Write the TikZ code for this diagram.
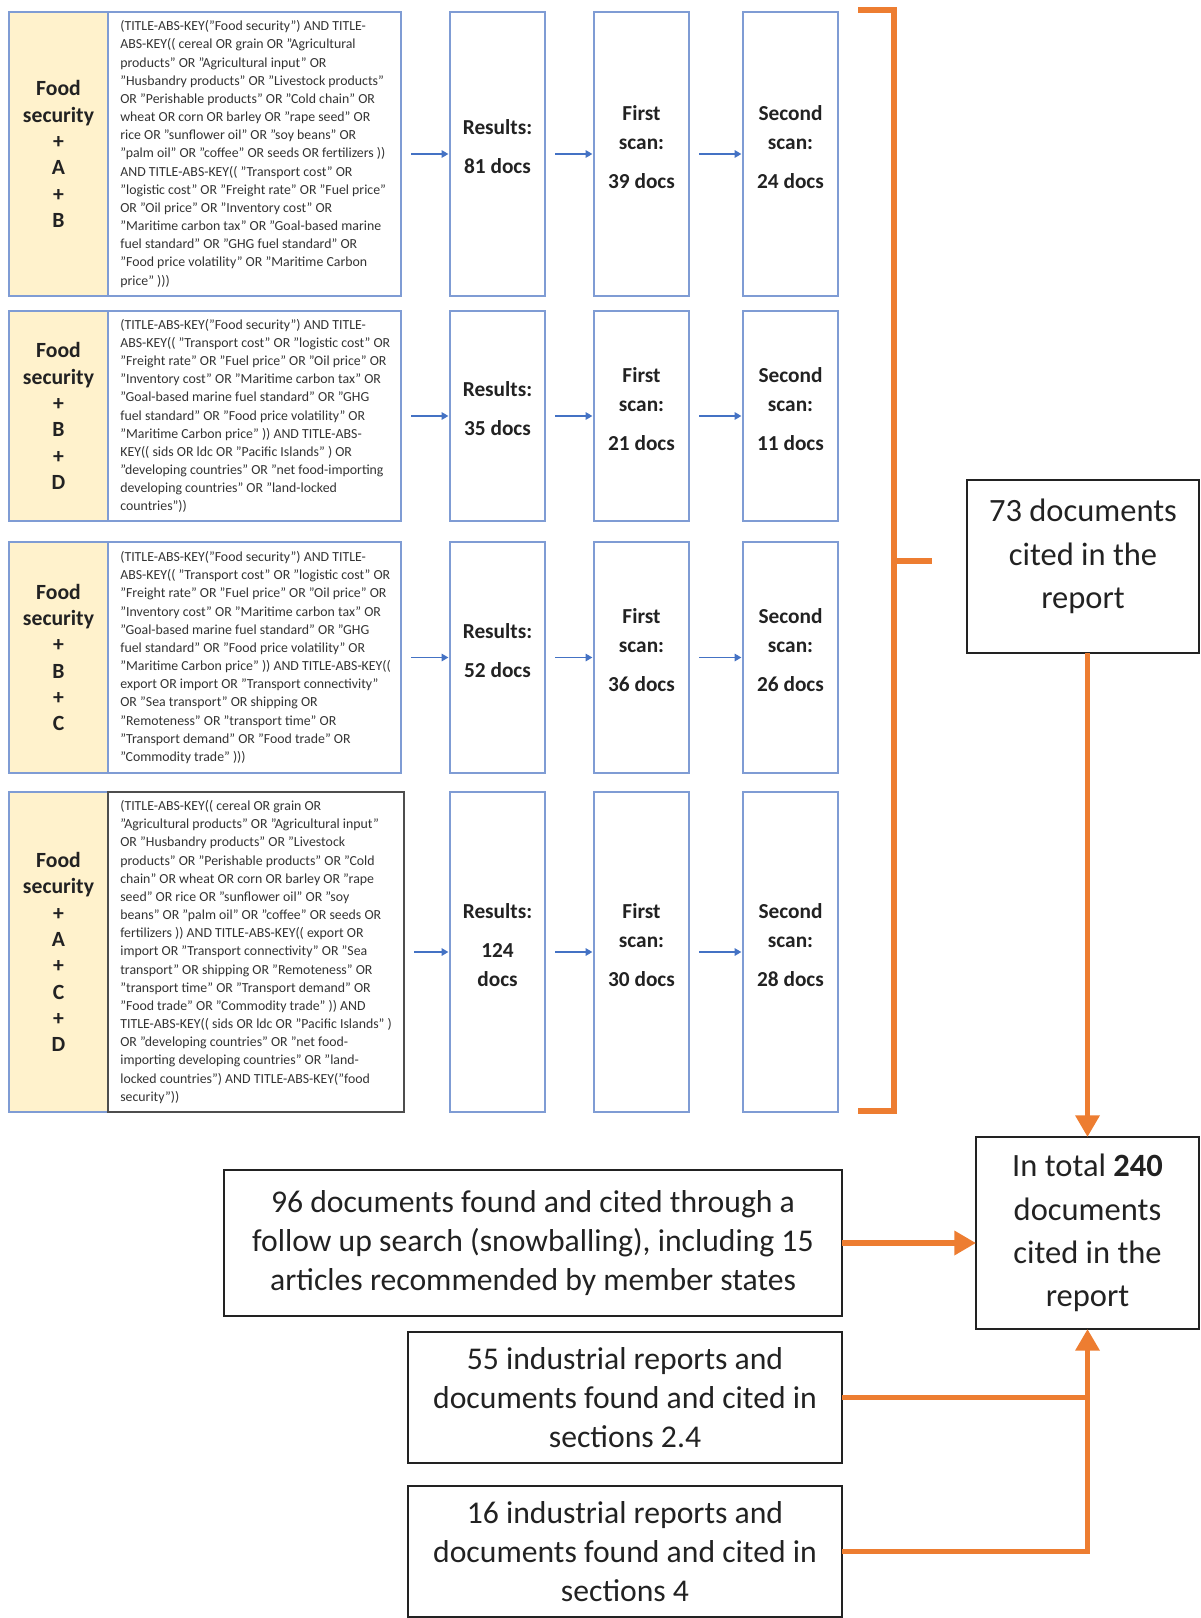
\documentclass[tikz,border=0pt]{standalone}
\usepackage{fontspec}
\setmainfont{Carlito}
\usetikzlibrary{arrows.meta,calc}
\definecolor{orng}{HTML}{ED7D31}
\definecolor{bxblue}{HTML}{7F9CD4}
\definecolor{arblue}{HTML}{4472C4}
\definecolor{beige}{HTML}{FFF2CC}
\definecolor{qtext}{HTML}{333333}
\definecolor{dk}{HTML}{222222}
\newcommand\qrow[9]{%
 \node[lab,sz={99}{#3}] (L#1) at (9,#2) {#4};
 \node[bx,sz={293}{#3},#9] (Q#1) at (108,#2) {};
 \node[qt] (QT#1) at ($(Q#1.west)+(12,0)$) {#5};
 \node[bx,sz={95}{#3}] (R#1) at (450,#2) {};
 \node[bx,sz={95}{#3}] (F#1) at (594,#2) {};
 \node[bx,sz={95}{#3}] (S#1) at (743,#2) {};
 \node[ct] (RT#1) at ($(R#1.center)+(0,-7)$) {Results:\\[6pt]#6};
 \node[ct] (FT#1) at ($(F#1.center)+(0,-7)$) {First\\scan:\\[6pt]#7};
 \node[ct] (ST#1) at ($(S#1.center)+(0,-7)$) {Second\\scan:\\[6pt]#8};
 \draw[barrow] (Q#1.east) -- (R#1.west);
 \draw[barrow] (R#1.east) -- (F#1.west);
 \draw[barrow] (F#1.east) -- (S#1.west);
}
\begin{document}
\begin{tikzpicture}[x=0.6pt,y=-0.6pt,
  sz/.style 2 args={minimum width=#1*0.6pt,minimum height=#2*0.6pt},
  bx/.style={draw=bxblue,line width=0.9pt,inner sep=0pt,outer sep=0pt,anchor=north west},
  lab/.style={bx,fill=beige,font=\fontsize{13}{15.8}\selectfont\bfseries,align=center,text=dk},
  qt/.style={anchor=west,inner sep=0pt,align=left,font=\fontsize{8.3}{10.9}\selectfont,text=qtext},
  ct/.style={inner sep=0pt,align=center,font=\fontsize{12.8}{17.4}\selectfont\bfseries,text=dk},
  barrow/.style={draw=arblue,line width=0.8pt,-{Triangle[length=4pt,width=4.5pt]},shorten <=6pt,shorten >=1pt},
  kbox/.style={draw=dk,line width=1pt,inner sep=0pt,outer sep=0pt,anchor=north west,align=center,font=\fontsize{19}{23.2}\selectfont,text=dk},
  rt/.style={inner sep=0pt,align=center,font=\fontsize{19.5}{26}\selectfont,text=dk},
  oline/.style={draw=orng,line width=3.3pt},
  oarrow/.style={oline,-{Triangle[length=13pt,width=14pt]}},
]
\useasboundingbox (0,0) rectangle (1200,1618);

\qrow{1}{12}{284}{Food\\security\\+\\A\\+\\B}{%
(TITLE-ABS-KEY("Food security") AND TITLE-\\
ABS-KEY(( cereal OR grain OR "Agricultural\\
products" OR "Agricultural input" OR\\
"Husbandry products" OR "Livestock products"\\
OR "Perishable products" OR "Cold chain" OR\\
wheat OR corn OR barley OR "rape seed" OR\\
rice OR "sunflower oil" OR "soy beans" OR\\
"palm oil" OR "coffee" OR seeds OR fertilizers ))\\
AND TITLE-ABS-KEY(( "Transport cost" OR\\
"logistic cost" OR "Freight rate" OR "Fuel price"\\
OR "Oil price" OR "Inventory cost" OR\\
"Maritime carbon tax" OR "Goal-based marine\\
fuel standard" OR "GHG fuel standard" OR\\
"Food price volatility" OR "Maritime Carbon\\
price" )))}{81 docs}{39 docs}{24 docs}{}

\qrow{2}{311}{210}{Food\\security\\+\\B\\+\\D}{%
(TITLE-ABS-KEY("Food security") AND TITLE-\\
ABS-KEY(( "Transport cost" OR "logistic cost" OR\\
"Freight rate" OR "Fuel price" OR "Oil price" OR\\
"Inventory cost" OR "Maritime carbon tax" OR\\
"Goal-based marine fuel standard" OR "GHG\\
fuel standard" OR "Food price volatility" OR\\
"Maritime Carbon price" )) AND TITLE-ABS-\\
KEY(( sids OR ldc OR "Pacific Islands" ) OR\\
"developing countries" OR "net food-importing\\
developing countries" OR "land-locked\\
countries"))}{35 docs}{21 docs}{11 docs}{}

\qrow{3}{542}{231}{Food\\security\\+\\B\\+\\C}{%
(TITLE-ABS-KEY("Food security") AND TITLE-\\
ABS-KEY(( "Transport cost" OR "logistic cost" OR\\
"Freight rate" OR "Fuel price" OR "Oil price" OR\\
"Inventory cost" OR "Maritime carbon tax" OR\\
"Goal-based marine fuel standard" OR "GHG\\
fuel standard" OR "Food price volatility" OR\\
"Maritime Carbon price" )) AND TITLE-ABS-KEY((\\
export OR import OR "Transport connectivity"\\
OR "Sea transport" OR shipping OR\\
"Remoteness" OR "transport time" OR\\
"Transport demand" OR "Food trade" OR\\
"Commodity trade" )))}{52 docs}{36 docs}{26 docs}{}

\qrow{4}{792}{320}{Food\\security\\+\\A\\+\\C\\+\\D}{%
(TITLE-ABS-KEY(( cereal OR grain OR\\
"Agricultural products" OR "Agricultural input"\\
OR "Husbandry products" OR "Livestock\\
products" OR "Perishable products" OR "Cold\\
chain" OR wheat OR corn OR barley OR "rape\\
seed" OR rice OR "sunflower oil" OR "soy\\
beans" OR "palm oil" OR "coffee" OR seeds OR\\
fertilizers )) AND TITLE-ABS-KEY(( export OR\\
import OR "Transport connectivity" OR "Sea\\
transport" OR shipping OR "Remoteness" OR\\
"transport time" OR "Transport demand" OR\\
"Food trade" OR "Commodity trade" )) AND\\
TITLE-ABS-KEY(( sids OR ldc OR "Pacific Islands" )\\
OR "developing countries" OR "net food-\\
importing developing countries" OR "land-\\
locked countries") AND TITLE-ABS-KEY("food\\
security"))}{124\\docs}{30 docs}{28 docs}{draw=dk!80,sz={296}{320}}

% bracket
\draw[oline,line width=4pt] (858,10) -- (894,10) -- (894,1111) -- (858,1111);
\draw[oline,line width=4pt] (894,561) -- (932,561);

% right boxes
\node[kbox,sz={232}{173}] (n73) at (967,480) {};
\node[rt] (n73t) at ($(n73.center)+(0,-10)$) {73 documents\\cited in the\\report};
\node[kbox,sz={223}{192},font=\fontsize{19.5}{26}\selectfont] (ntot) at (976,1137) {In total \textbf{240}\\documents\\cited in the\\report};
\node[kbox,sz={618}{146}] (n96) at (224,1170) {96 documents found and cited through a\\follow up search (snowballing), including 15\\articles recommended by member states};
\node[kbox,sz={434}{131}] (n55) at (408,1332) {55 industrial reports and\\documents found and cited in\\sections 2.4};
\node[kbox,sz={434}{131}] (n16) at (408,1486) {16 industrial reports and\\documents found and cited in\\sections 4};

% connectors
\draw[oarrow] (n73.south -| ntot.north) -- (ntot.north);
\draw[oarrow] (n96.east) -- (n96.east -| ntot.west);
\draw[oline] (n55.east) -- (n55.east -| ntot.south);
\draw[oarrow] (n16.east) -| (ntot.south);
\end{tikzpicture}
\end{document}
